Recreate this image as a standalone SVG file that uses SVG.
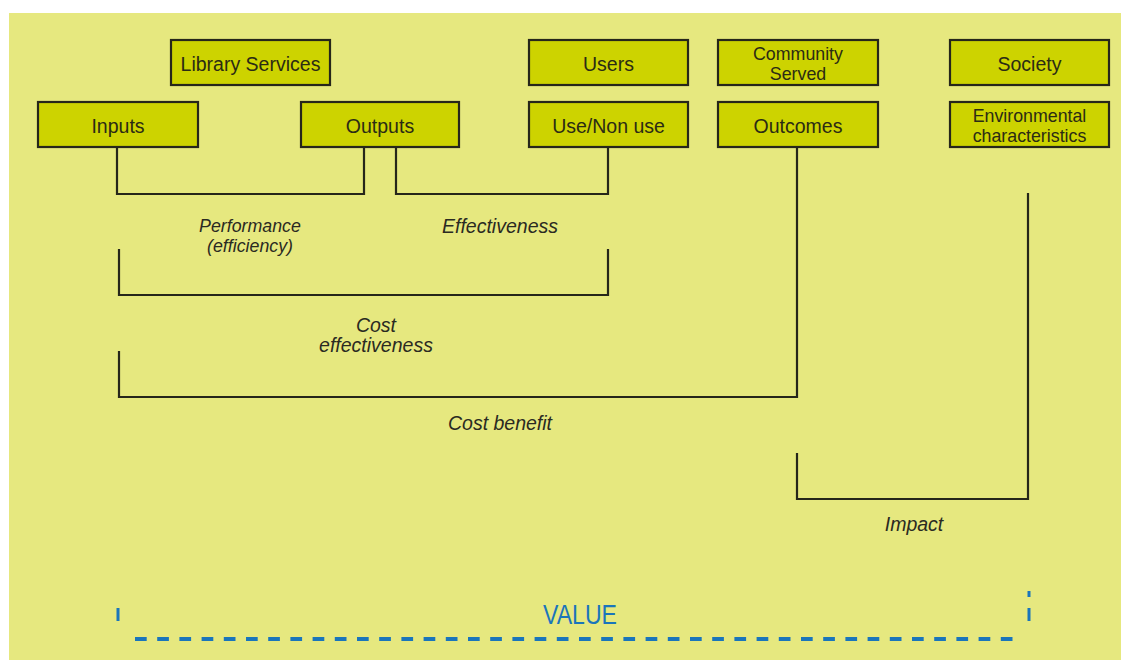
<svg xmlns="http://www.w3.org/2000/svg" width="1121" height="660" viewBox="0 0 1121 660">
<style>
.box{fill:#cdd300;stroke:#26261a;stroke-width:2.2}
.bt{font-family:"Liberation Sans",Arial,sans-serif;font-size:19.5px;fill:#2b2b14;text-anchor:middle}
.lbl{font-family:"Liberation Sans",Arial,sans-serif;font-size:19.5px;font-style:italic;fill:#2a2a22;text-anchor:middle}
.two{font-size:17.8px}
.con{fill:none;stroke:#26261a;stroke-width:2.2}
.val{stroke:#1a75bb;fill:none}
</style>
<rect x="0" y="0" width="1121" height="660" fill="#ffffff"/>
<rect x="9" y="13" width="1112" height="647" fill="#e6e87f"/>

<g id="connectors">
<path class="con" d="M117,147 V194 H364 V147"/>
<path class="con" d="M396,147 V194 H608 V147"/>
<path class="con" d="M119,249 V295 H608 V249"/>
<path class="con" d="M119,351 V397 H797 V147"/>
<path class="con" d="M797,453 V499 H1028 V193"/>
</g>

<g id="library-services"><rect class="box" x="171" y="40" width="159" height="45"/><text class="bt" x="250.5" y="71">Library Services</text></g>
<g id="users"><rect class="box" x="529" y="40" width="159" height="45"/><text class="bt" x="608.5" y="71">Users</text></g>
<g id="community-served"><rect class="box" x="718" y="40" width="160" height="45"/><text class="bt two" x="798" y="60">Community</text><text class="bt two" x="798" y="80">Served</text></g>
<g id="society"><rect class="box" x="950" y="40" width="159" height="45"/><text class="bt" x="1029.5" y="71">Society</text></g>
<g id="inputs"><rect class="box" x="38" y="102" width="160" height="45"/><text class="bt" x="118" y="133">Inputs</text></g>
<g id="outputs"><rect class="box" x="301" y="102" width="158" height="45"/><text class="bt" x="380" y="133">Outputs</text></g>
<g id="use-non-use"><rect class="box" x="529" y="102" width="159" height="45"/><text class="bt" x="608.5" y="133">Use/Non use</text></g>
<g id="outcomes"><rect class="box" x="718" y="102" width="160" height="45"/><text class="bt" x="798" y="133">Outcomes</text></g>
<g id="environmental-characteristics"><rect class="box" x="950" y="102" width="159" height="45"/><text class="bt two" x="1029.5" y="122">Environmental</text><text class="bt two" x="1029.5" y="142">characteristics</text></g>

<g id="labels">
<text class="lbl two" x="250" y="232">Performance</text>
<text class="lbl two" x="250" y="252">(efficiency)</text>
<text class="lbl" x="500" y="233">Effectiveness</text>
<text class="lbl" x="376" y="332">Cost</text>
<text class="lbl" x="376" y="352">effectiveness</text>
<text class="lbl" x="500" y="430">Cost benefit</text>
<text class="lbl" x="914" y="531">Impact</text>
</g>

<g id="value">
<text x="580" y="624" font-family="'Liberation Sans',Arial,sans-serif" font-size="28" fill="#1a75bb" text-anchor="middle" textLength="74" lengthAdjust="spacingAndGlyphs">VALUE</text>
<line class="val" x1="135" y1="639" x2="1013" y2="639" stroke-width="4" stroke-dasharray="11.7 10.5"/>
<line class="val" x1="118" y1="608" x2="118" y2="621" stroke-width="3"/>
<line class="val" x1="1029" y1="591" x2="1029" y2="597" stroke-width="3"/>
<line class="val" x1="1029" y1="608" x2="1029" y2="621" stroke-width="3"/>
</g>
</svg>
